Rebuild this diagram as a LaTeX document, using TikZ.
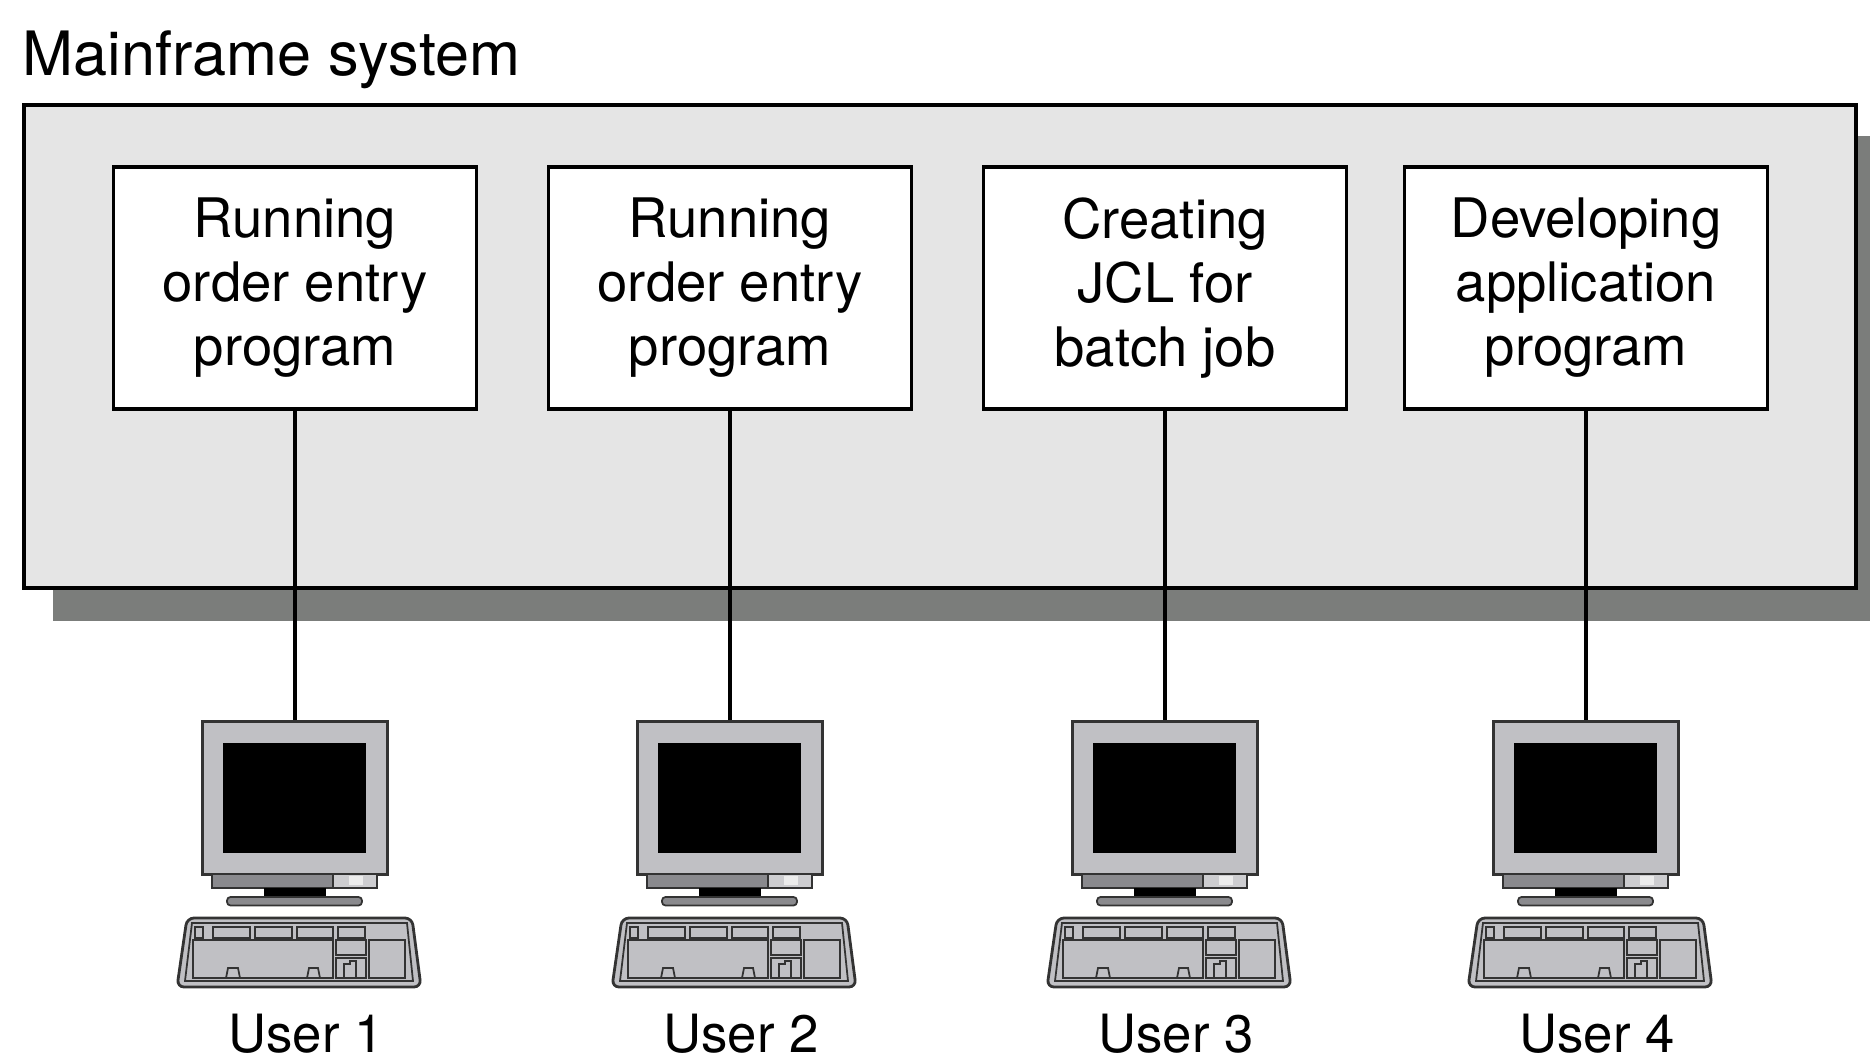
\documentclass[tikz,border=0pt]{standalone}
\usepackage{fontspec}
\setmainfont{TeX Gyre Heros}
\usepackage{tikz}
\usetikzlibrary{positioning}

\definecolor{framefill}{gray}{0.9}
\definecolor{shadowgray}{RGB}{123,125,123}
\definecolor{casegray}{RGB}{192,192,196}
\definecolor{stripgray}{RGB}{138,138,142}

\begin{document}
\begin{tikzpicture}[
        task/.style={draw, line width=1pt, fill=white, minimum width=3.63cm, minimum height=2.42cm, align=center, font=\fontsize{15.5}{18.2}\selectfont},
        monitor/.style={draw=black!80, line width=0.6pt, fill=casegray, minimum width=1.85cm, minimum height=1.53cm, inner sep=0pt},
        part/.style={draw=black!80, line width=0.5pt},
        user/.style={anchor=base, inner sep=0pt, font=\fontsize{15}{18}\selectfont}]
                \useasboundingbox (0,0) rectangle (18.70,10.58);
                % mainframe with its shadow
                \fill[shadowgray] (0.53,4.37) rectangle (18.70,9.22);
                \filldraw[fill=framefill, draw=black, line width=1.3pt] (0.24,4.70) rectangle (18.56,9.53);
                \node[anchor=base west, inner sep=0pt, font=\fontsize{17.4}{20}\selectfont] (title) at (0.22,9.83) {Mainframe system};
                \node[task] (task1) at (2.95,7.70) {Running\\order entry\\program};
                \node[task] (task2) at (7.30,7.70) {Running\\order entry\\program};
                \node[task] (task3) at (11.65,7.70) {Creating\\JCL for\\batch job};
                \node[task] (task4) at (15.86,7.70) {Developing\\application\\program};
                % terminals
                \foreach \i/\x in {1/2.95, 2/7.30, 3/11.65, 4/15.86} {
                    \node[monitor] (pc\i) at (\x,2.60) {};
                    \draw[line width=0.9pt] (task\i) -- (pc\i);
                    \begin{scope}[shift={(pc\i.center)}]
                        \fill[black] (-0.72,-0.55) rectangle (0.71,0.55);
                        %\draw[white] (0.58,-0.65) -- (0.62,-0.65);
                        \filldraw[part, fill=stripgray] (-0.83,-0.76) rectangle (0.82,-0.90);
                        \draw[part, fill=casegray!80] (0.38,-0.76) rectangle (0.82,-0.90);
                        \fill[white!85!gray] (0.54,-0.78) rectangle (0.68,-0.87);
                        \fill[black] (-0.31,-0.90) rectangle (0.31,-0.99);
                        \filldraw[part, fill=stripgray, rounded corners=1pt] (-0.68,-0.99) rectangle (0.67,-1.075);
                        % keyboard
                        \filldraw[draw=black!80, line width=0.8pt, fill=casegray, rounded corners=2pt] (-1.08,-1.20) -- (1.17,-1.20) -- (1.26,-1.89) -- (-1.18,-1.89) -- cycle;
                        \draw[part] (-1.03,-1.25) -- (1.12,-1.25) -- (1.18,-1.83) -- (-1.10,-1.83) -- cycle;
                        \draw[part] (-1.00,-1.29) rectangle (-0.92,-1.40);
                        \foreach \a/\b in {-0.82/-0.45, -0.40/-0.03, 0.02/0.38, 0.43/0.70}
                            \draw[part] (\a,-1.29) rectangle (\b,-1.40);
                        \draw[part] (-1.02,-1.42) rectangle (0.38,-1.80);
                        \draw[part] (0.41,-1.42) rectangle (0.71,-1.57);
                        \draw[part] (0.41,-1.60) rectangle (0.71,-1.80);
                        \draw[part] (0.74,-1.42) rectangle (1.10,-1.80);
                        \draw[part] (-0.69,-1.80) -- (-0.67,-1.70) -- (-0.57,-1.70) -- (-0.55,-1.80);
                        \draw[part] (0.12,-1.80) -- (0.14,-1.70) -- (0.23,-1.70) -- (0.25,-1.80);
                        \draw[part] (0.49,-1.80) -- (0.49,-1.66) -- (0.55,-1.66) -- (0.55,-1.63) -- (0.61,-1.63) -- (0.61,-1.80);
                    \end{scope}
                    \node[user] (user\i) at (\x+0.11,0.06) {User \i};
                }
\end{tikzpicture}
\end{document}
